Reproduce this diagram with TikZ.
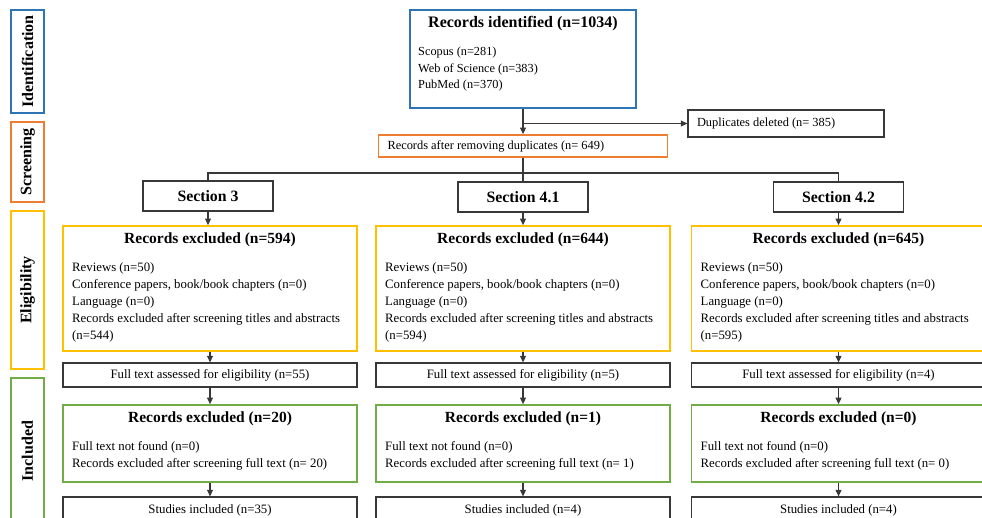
\documentclass[tikz,border=0pt]{standalone}
\usepackage{fontspec}
\setmainfont{Liberation Serif}
\usetikzlibrary{arrows.meta,positioning}

\definecolor{idblue}{HTML}{2E75B6}
\definecolor{scrorange}{HTML}{ED7D31}
\definecolor{eligyellow}{HTML}{FFC000}
\definecolor{inclgreen}{HTML}{70AD47}
\definecolor{boxgray}{HTML}{383838}

\tikzset{
  phase/.style={draw,line width=1.8pt,rotate=90,minimum height=33pt,inner sep=0pt,font=\fontsize{16}{18}\selectfont\bfseries},
  plainbox/.style={draw=boxgray,line width=1.3pt,minimum width=294pt,inner sep=0pt,font=\fontsize{12.8}{17}\selectfont},
  secbox/.style={draw=boxgray,line width=1.3pt,minimum width=130pt,minimum height=30pt,inner sep=0pt,font=\fontsize{15.8}{18}\selectfont\bfseries},
  stepbox/.style={line width=1.8pt,minimum width=294pt,inner sep=0pt},
  notebox/.style={line width=1.3pt,inner ysep=0pt,align=flush left,font=\fontsize{12.4}{16.5}\selectfont},
  head/.style={inner sep=0pt,font=\fontsize{15.5}{18}\selectfont\bfseries},
  items/.style={inner sep=0pt,anchor=north west,align=left,font=\fontsize{12.8}{17}\selectfont},
  arr/.style={-{Triangle[length=6.5pt,width=6pt]},line width=1.2pt,boxgray},
  link/.style={line width=1.2pt,boxgray}
}

\begin{document}
\begin{tikzpicture}[x=1pt,y=-1pt]
\useasboundingbox (0,0) rectangle (982,517);

% Phase labels
\node[phase,draw=idblue,minimum width=103pt] (idph) at (27.5,61.5) {Identification};
\node[phase,draw=scrorange,minimum width=80pt] (scph) at (27.5,162) {Screening};
\node[phase,draw=eligyellow,minimum width=158pt] (elph) at (27.5,290) {Eligibility};
\node[phase,draw=inclgreen,minimum width=146pt] (inph) at (27.5,451) {Included};

% Identification and screening
\node[stepbox,draw=idblue,minimum width=226pt,minimum height=98pt] (ident) at (523,59) {};
\node[head,font=\fontsize{16}{18}\selectfont\bfseries] (identt) at (523,24) {Records identified (n=1034)};
\node[items,font=\fontsize{12.3}{16.6}\selectfont] (identl) at (418,47) {Scopus (n=281)\\Web of Science (n=383)\\PubMed (n=370)};
\node[notebox,draw=boxgray,text width=178pt,inner xsep=9pt,minimum height=27pt] (dupl) at (786,123.5) {Duplicates deleted (n= 385)};
\node[notebox,draw=scrorange,line width=1.8pt,text width=271pt,inner xsep=9pt,minimum height=22pt] (dedup) at (523,146) {Records after removing duplicates (n= 649)};
\coordinate (dupfork) at (ident.south |- dupl.west);
\coordinate (secfork) at (523,173);

% Sections
\node[secbox] (sec3) at (208,196) {Section 3};
\node[secbox] (sec41) at (523,197) {Section 4.1};
\node[secbox] (sec42) at (838.5,197) {Section 4.2};

\draw[arr] (ident.south) -- (dedup.north);
\draw[arr] (dupfork) -- (dupl.west);
\draw[link] (dedup.south) -- (sec41.north);
\draw[link] (secfork) -| (sec3.north);
\draw[link] (secfork) -| (sec42.north);

% Section 3
\node[stepbox,draw=eligyellow,minimum height=125pt] (elig3) at (210,288.5) {};
\node[head] (elig3t) at (210,240) {Records excluded (n=594)};
\node[items] (elig3l) at (72,262) {Reviews (n=50)\\Conference papers, book/book chapters (n=0)\\Language (n=0)\\Records excluded after screening titles and abstracts\\(n=544)};
\node[plainbox,minimum height=24pt] (full3) at (210,375) {Full text assessed for eligibility (n=55)};
\node[stepbox,draw=inclgreen,minimum height=77pt] (excl3) at (210,443.5) {};
\node[head] (excl3t) at (210,419) {Records excluded (n=20)};
\node[items] (excl3l) at (72,441) {Full text not found (n=0)\\Records excluded after screening full text (n= 20)};
\node[plainbox,minimum height=26pt] (incl3) at (210,510) {Studies included (n=35)};

% Section 4.1
\node[stepbox,draw=eligyellow,minimum height=125pt] (elig41) at (523,288.5) {};
\node[head] (elig41t) at (523,240) {Records excluded (n=644)};
\node[items] (elig41l) at (385,262) {Reviews (n=50)\\Conference papers, book/book chapters (n=0)\\Language (n=0)\\Records excluded after screening titles and abstracts\\(n=594)};
\node[plainbox,minimum height=24pt] (full41) at (523,375) {Full text assessed for eligibility (n=5)};
\node[stepbox,draw=inclgreen,minimum height=77pt] (excl41) at (523,443.5) {};
\node[head] (excl41t) at (523,419) {Records excluded (n=1)};
\node[items] (excl41l) at (385,441) {Full text not found (n=0)\\Records excluded after screening full text (n= 1)};
\node[plainbox,minimum height=26pt] (incl41) at (523,510) {Studies included (n=4)};

% Section 4.2
\node[stepbox,draw=eligyellow,minimum height=125pt] (elig42) at (838.5,288.5) {};
\node[head] (elig42t) at (838.5,240) {Records excluded (n=645)};
\node[items] (elig42l) at (700.5,262) {Reviews (n=50)\\Conference papers, book/book chapters (n=0)\\Language (n=0)\\Records excluded after screening titles and abstracts\\(n=595)};
\node[plainbox,minimum height=24pt] (full42) at (838.5,375) {Full text assessed for eligibility (n=4)};
\node[stepbox,draw=inclgreen,minimum height=77pt] (excl42) at (838.5,443.5) {};
\node[head] (excl42t) at (838.5,419) {Records excluded (n=0)};
\node[items] (excl42l) at (700.5,441) {Full text not found (n=0)\\Records excluded after screening full text (n= 0)};
\node[plainbox,minimum height=26pt] (incl42) at (838.5,510) {Studies included (n=4)};

\draw[arr] (sec3) -- (sec3 |- elig3.north);
\draw[arr] (elig3) -- (full3);
\draw[arr] (full3) -- (excl3);
\draw[arr] (excl3) -- (incl3);
\draw[arr] (sec41) -- (elig41);
\draw[arr] (elig41) -- (full41);
\draw[arr] (full41) -- (excl41);
\draw[arr] (excl41) -- (incl41);
\draw[arr] (sec42) -- (elig42);
\draw[arr] (elig42) -- (full42);
\draw[arr] (full42) -- (excl42);
\draw[arr] (excl42) -- (incl42);

\end{tikzpicture}
\end{document}
